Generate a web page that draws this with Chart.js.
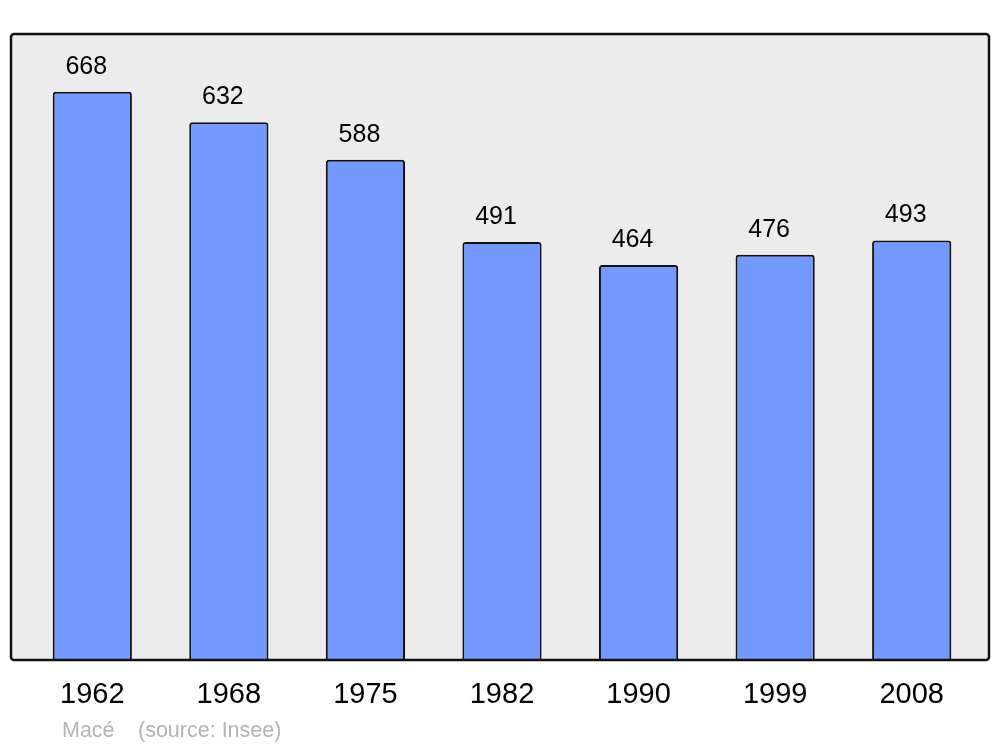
<!DOCTYPE html>
<html>
<head>
<meta charset="utf-8">
<script src="https://cdn.jsdelivr.net/npm/chart.js@4/dist/chart.umd.min.js"></script>
<style>
  html, body { margin: 0; padding: 0; background: #ffffff; }
  #wrap { width: 1000px; height: 747px; position: relative; }
</style>
</head>
<body>
<div id="wrap"><canvas id="c" width="1000" height="747"></canvas></div>
<script>
const years = ['1962', '1968', '1975', '1982', '1990', '1999', '2008'];
const population = [668, 632, 588, 491, 464, 476, 493];
const sourceName = 'Macé';
const sourceNote = '(source: Insee)';

const FONT = '"Liberation Sans", Arial, sans-serif';

const framePlugin = {
  id: 'frame',
  beforeDatasetsDraw(chart) {
    const ctx = chart.ctx;
    ctx.save();
    ctx.beginPath();
    ctx.roundRect(11, 34, 978, 626, 3);
    ctx.fillStyle = '#ececec';
    ctx.fill();
    ctx.restore();
  },
  afterDatasetsDraw(chart) {
    const ctx = chart.ctx;
    ctx.save();
    ctx.beginPath();
    ctx.roundRect(11, 34, 978, 626, 3);
    ctx.lineWidth = 2.5;
    ctx.strokeStyle = '#111111';
    ctx.stroke();
    // value labels
    const meta = chart.getDatasetMeta(0);
    ctx.fillStyle = '#000000';
    ctx.font = '25px ' + FONT;
    ctx.textAlign = 'center';
    ctx.textBaseline = 'alphabetic';
    meta.data.forEach((bar, i) => {
      ctx.fillText(String(population[i]), bar.x - 6, bar.y - 18);
    });
    // source text
    ctx.fillStyle = '#b4b4b4';
    ctx.font = '21.5px ' + FONT;
    ctx.textAlign = 'left';
    ctx.fillText(sourceName, 62, 737);
    ctx.fillText(sourceNote, 138, 737);
    ctx.restore();
  }
};

new Chart(document.getElementById('c'), {
  type: 'bar',
  data: {
    labels: years,
    datasets: [{
      data: population,
      backgroundColor: '#7399ff',
      borderColor: '#111111',
      borderWidth: 2,
      borderRadius: 3,
      borderSkipped: 'bottom',
      barPercentage: 0.58,
      categoryPercentage: 1.0
    }]
  },
  options: {
    responsive: false,
    animation: false,
    devicePixelRatio: 1,
    layout: { padding: { left: 24, right: 20, top: 34, bottom: 17 } },
    plugins: {
      legend: { display: false },
      tooltip: { enabled: false }
    },
    scales: {
      x: {
        offset: true,
        grid: { display: false, drawTicks: false },
        border: { display: false },
        ticks: {
          color: '#000000',
          font: { family: FONT, size: 29 },
          padding: 18,
          maxRotation: 0
        }
      },
      y: {
        display: false,
        min: 0,
        max: 736
      }
    }
  },
  plugins: [framePlugin]
});
</script>
</body>
</html>
